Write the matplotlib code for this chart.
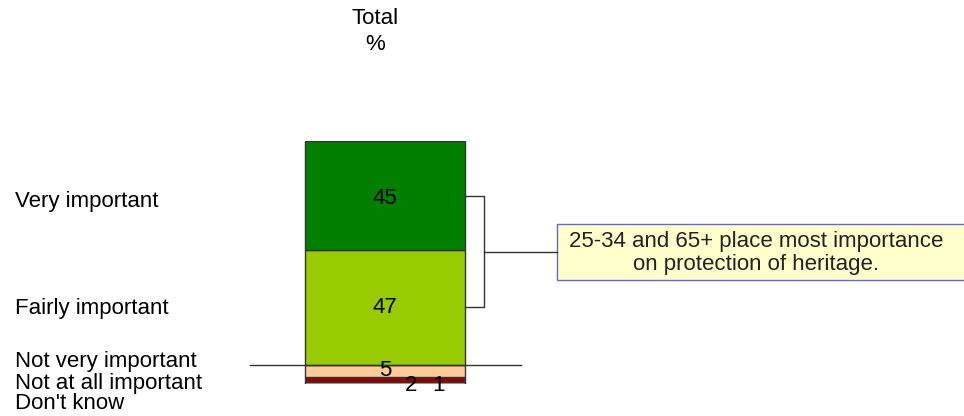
import matplotlib.pyplot as plt
from matplotlib.patches import Rectangle

plt.rcParams['font.family'] = ['Liberation Sans', 'DejaVu Sans']

# categories bottom to top, as they are stacked
categorias = ["Don't know", "Not at all important", "Not very important",
              "Fairly important", "Very important"]
valores = [1, 2, 5, 47, 45]
colores = ['#FFFFFF', '#990000', '#FFCC99', '#99CC00', '#007F00']
nota = "25-34 and 65+ place most importance\non protection of heritage."

fig = plt.figure(figsize=(9.64, 4.16), dpi=100)
# eje: x en pixeles de la figura, y en porcentaje
ax = fig.add_axes([0, 32 / 416, 1, 243 / 416])
ax.set_xlim(0, 964)
ax.set_ylim(0, 100)
ax.axis('off')

xc = 385
ancho = 160
fs = 16

base = 0
centros = []
for v, c in zip(valores, colores):
    ax.bar(xc, v, width=ancho, bottom=base, color=c, edgecolor='#333333',
           linewidth=1.0, zorder=2)
    centros.append(base + v / 2)
    base += v

# etiquetas de valor
ax.text(xc, centros[4] - 1, str(valores[4]), ha='center', va='center', fontsize=fs, zorder=4)
ax.text(xc, centros[3], str(valores[3]), ha='center', va='center', fontsize=fs, zorder=4)
ax.text(xc, centros[2], str(valores[2]), ha='center', va='center', fontsize=fs, zorder=4)
ax.text(xc + 26, centros[0] - 1, str(valores[1]), ha='center', va='center', fontsize=fs, zorder=4)
ax.text(xc + 54, centros[0] - 1, str(valores[0]), ha='center', va='center', fontsize=fs, zorder=4)

# linea horizontal sobre "Not very important"
tope_nvi = sum(valores[:3])
ax.plot([250, 521], [tope_nvi, tope_nvi], color='#333333', lw=1.0, zorder=3, clip_on=False)

# etiquetas a la izquierda
ax.text(15, centros[4] - 2.5, categorias[4], ha='left', va='center', fontsize=fs)
ax.text(15, centros[3] - 0.5, categorias[3], ha='left', va='center', fontsize=fs)
ax.text(15, 9.2, categorias[2], ha='left', va='center', fontsize=fs, clip_on=False)
ax.text(15, 0.4, categorias[1], ha='left', va='center', fontsize=fs, clip_on=False)
ax.text(15, -8.2, categorias[0], ha='left', va='center', fontsize=fs, clip_on=False)

# corchete que agrupa los dos segmentos superiores
xb = 484
ax.plot([xc + ancho / 2, xb, xb, xc + ancho / 2],
        [centros[4], centros[4], centros[3], centros[3]],
        color='#333333', lw=1.0, clip_on=False)
ymed = (centros[4] + centros[3]) / 2
ax.plot([xb, 557], [ymed, ymed], color='#333333', lw=1.0, clip_on=False)

# cuadro de nota
ax.add_patch(Rectangle((557, ymed - 11.5), 430, 23, facecolor='#FFFFCC',
                       edgecolor='#6666CC', lw=1.0, clip_on=False))
ax.text(756, ymed - 0.5, nota, ha='center', va='center', fontsize=fs,
        linespacing=1.1, color='#222222', clip_on=False)

# encabezado
fig.text(375 / 964, 1 - 18 / 416, 'Total', ha='center', va='center', fontsize=fs)
fig.text(375 / 964, 1 - 45 / 416, '%', ha='center', va='center', fontsize=fs)

fig.savefig('out.png', dpi=100)
